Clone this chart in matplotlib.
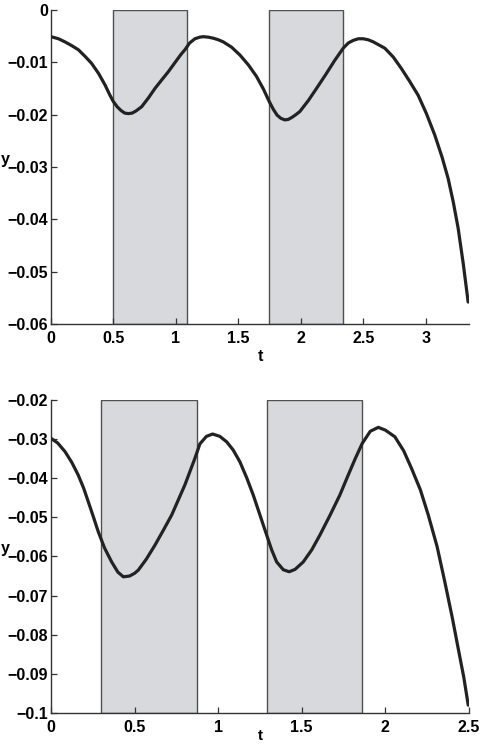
import matplotlib
matplotlib.use("Agg")
import matplotlib.pyplot as plt

# top panel: curve
t_top = [0.0, 0.06, 0.112, 0.165, 0.219, 0.27, 0.325, 0.38, 0.432, 0.47, 0.499, 0.53,
         0.56, 0.59, 0.619, 0.65, 0.68, 0.725, 0.78, 0.832, 0.885, 0.939, 1.0, 1.04,
         1.072, 1.11, 1.152, 1.19, 1.219, 1.26, 1.30, 1.34, 1.379, 1.445, 1.512, 1.58,
         1.645, 1.70, 1.747, 1.78, 1.81, 1.84, 1.872, 1.90, 1.93, 1.96, 1.992, 2.06,
         2.125, 2.20, 2.272, 2.31, 2.339, 2.38, 2.42, 2.46, 2.499, 2.54, 2.58, 2.672,
         2.74, 2.805, 2.87, 2.939, 3.005, 3.072, 3.13, 3.179, 3.22, 3.259, 3.30, 3.339]
y_top = [-0.0051, -0.0055, -0.0061, -0.0068, -0.0076, -0.0088, -0.0102, -0.0121, -0.0143,
         -0.0162, -0.0175, -0.0185, -0.0192, -0.0197, -0.0198, -0.0197, -0.0193, -0.0185,
         -0.0168, -0.0150, -0.0134, -0.0118, -0.0098, -0.0085, -0.0076, -0.0063, -0.0055,
         -0.0052, -0.0051, -0.0052, -0.0054, -0.0057, -0.0061, -0.0071, -0.0086, -0.0105,
         -0.0127, -0.0151, -0.0175, -0.0190, -0.0201, -0.0207, -0.0210, -0.0209, -0.0205,
         -0.0200, -0.0194, -0.0173, -0.0150, -0.0123, -0.0096, -0.0083, -0.0073, -0.0063,
         -0.0058, -0.0055, -0.0055, -0.0057, -0.0061, -0.0073, -0.0090, -0.0112, -0.0136,
         -0.0163, -0.0198, -0.0239, -0.0281, -0.0322, -0.0367, -0.0417, -0.0485, -0.0558]
shade_top = [(0.5, 1.09), (1.745, 2.335)]

# bottom panel
t_bot = [0.0, 0.04, 0.084, 0.125, 0.163, 0.195, 0.223, 0.253, 0.283, 0.32, 0.363, 0.40,
         0.433, 0.47, 0.50, 0.522, 0.57, 0.622, 0.672, 0.722, 0.76, 0.801, 0.831, 0.861,
         0.891, 0.93, 0.967, 1.01, 1.051, 1.09, 1.130, 1.17, 1.210, 1.25, 1.290, 1.32,
         1.350, 1.39, 1.425, 1.46, 1.509, 1.56, 1.609, 1.67, 1.728, 1.778, 1.82, 1.862,
         1.91, 1.958, 2.0, 2.057, 2.11, 2.157, 2.21, 2.257, 2.31, 2.356, 2.40, 2.436,
         2.47, 2.496]
y_bot = [-0.0298, -0.0310, -0.0332, -0.0360, -0.0392, -0.0425, -0.0460, -0.0498, -0.0537,
         -0.0578, -0.0614, -0.0640, -0.0652, -0.0650, -0.0643, -0.0635, -0.0607, -0.0571,
         -0.0533, -0.0494, -0.0457, -0.0417, -0.0383, -0.0349, -0.0312, -0.0293, -0.0287,
         -0.0293, -0.0307, -0.0328, -0.0358, -0.0398, -0.0443, -0.0494, -0.0545, -0.0583,
         -0.0614, -0.0634, -0.0639, -0.0633, -0.0614, -0.0583, -0.0545, -0.0494, -0.0443,
         -0.0392, -0.0350, -0.0311, -0.0280, -0.0270, -0.0277, -0.0294, -0.0330, -0.0375,
         -0.0430, -0.0494, -0.0575, -0.0665, -0.0755, -0.0835, -0.0910, -0.0980]
shade_bot = [(0.3, 0.871), (1.29, 1.862)]

plt.rcParams['font.family'] = ['Liberation Sans', 'DejaVu Sans']
plt.rcParams['font.weight'] = 'bold'

fig = plt.figure(figsize=(4.82, 7.44), dpi=100)


def panel(rect, t, y, shades, xlim, ylim, xticks, yticks, xlabels, ylabels):
    ax = fig.add_axes(rect)
    for a, b in shades:
        ax.axvspan(a, b, facecolor='#d7d9dc', edgecolor='#505050', lw=1.0, zorder=1)
    ax.plot(t, y, color='#222222', lw=2.3, zorder=3,
            solid_joinstyle='round', solid_capstyle='round')
    ax.set_xlim(*xlim)
    ax.set_ylim(*ylim)
    ax.set_xticks(xticks)
    ax.set_xticklabels(xlabels)
    ax.set_yticks(yticks)
    ax.set_yticklabels(ylabels)
    for s in ['top', 'right']:
        ax.spines[s].set_visible(False)
    for s in ['left', 'bottom']:
        ax.spines[s].set_color('#333333')
        ax.spines[s].set_linewidth(1.0)
    ax.tick_params(direction='in', length=4, width=0.9, color='#333333',
                   labelsize=11.5)
    ax.tick_params(axis='x', pad=5)
    ax.tick_params(axis='y', pad=2)
    ax.set_xlabel('t', fontsize=11.5, fontweight='bold', labelpad=2)
    ax.set_ylabel('y', fontsize=11.5, fontweight='bold', rotation=0, labelpad=0)
    return ax


ax1 = panel([0.1058, 0.5645, 0.867, 0.4221], t_top, y_top, shade_top,
            (0, 3.345), (-0.06, 0), [0, 0.5, 1, 1.5, 2, 2.5, 3],
            [-0.06, -0.05, -0.04, -0.03, -0.02, -0.01, 0],
            ['0', '0.5', '1', '1.5', '2', '2.5', '3'],
            ['\u22120.06', '\u22120.05', '\u22120.04', '\u22120.03', '\u22120.02',
             '\u22120.01', '0'])
ax1.yaxis.set_label_coords(-0.11, 0.5)

ax2 = panel([0.1058, 0.0417, 0.867, 0.4207], t_bot, y_bot, shade_bot,
            (0, 2.5), (-0.1, -0.02), [0, 0.5, 1, 1.5, 2, 2.5],
            [-0.1, -0.09, -0.08, -0.07, -0.06, -0.05, -0.04, -0.03, -0.02],
            ['0', '0.5', '1', '1.5', '2', '2.5'],
            ['\u22120.1', '\u22120.09', '\u22120.08', '\u22120.07', '\u22120.06',
             '\u22120.05', '\u22120.04', '\u22120.03', '\u22120.02'])
ax2.yaxis.set_label_coords(-0.11, 0.5)
# bottom "t" sits at the very edge of the picture; keep it inside
ax2.xaxis.set_label_coords(0.5, -0.05)
ax2.xaxis.label.set_fontsize(11)

fig.savefig('out.png', dpi=100)
